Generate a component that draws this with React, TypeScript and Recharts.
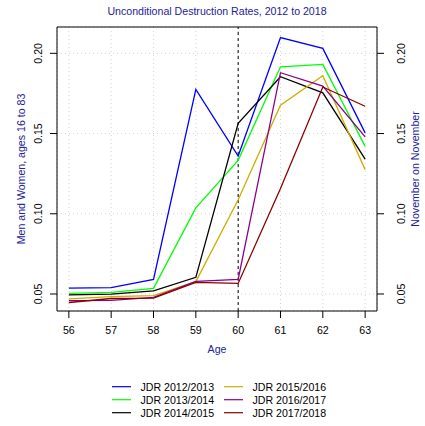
import { LineChart, Line, XAxis, YAxis, CartesianGrid, ReferenceLine, ReferenceArea } from 'recharts';

// ages on the x axis
const ages = [56, 57, 58, 59, 60, 61, 62, 63];

// destruction rates per JDR year
const jdr1213 = [0.0537, 0.054, 0.0591, 0.1775, 0.136, 0.2098, 0.2031, 0.1504];
const jdr1314 = [0.0504, 0.051, 0.0535, 0.1037, 0.1333, 0.1916, 0.1931, 0.142];
const jdr1415 = [0.0494, 0.0499, 0.052, 0.0604, 0.1563, 0.1854, 0.1754, 0.1341];
const jdr1516 = [0.0469, 0.0483, 0.049, 0.0577, 0.1087, 0.1677, 0.186, 0.1275];
const jdr1617 = [0.0459, 0.046, 0.0479, 0.0579, 0.0591, 0.1879, 0.1796, 0.1479];
const jdr1718 = [0.0447, 0.0472, 0.0474, 0.0573, 0.0566, 0.1158, 0.179, 0.167];

const xTicks = [56, 57, 58, 59, 60, 61, 62, 63];
const yTicks = [0.05, 0.1, 0.15, 0.2];

const series = [
  { key: 'jdr1213', name: 'JDR 2012/2013', color: '#0000FF', values: jdr1213 },
  { key: 'jdr1314', name: 'JDR 2013/2014', color: '#00FF00', values: jdr1314 },
  { key: 'jdr1415', name: 'JDR 2014/2015', color: '#000000', values: jdr1415 },
  { key: 'jdr1516', name: 'JDR 2015/2016', color: '#CDAD00', values: jdr1516 },
  { key: 'jdr1617', name: 'JDR 2016/2017', color: '#8B008B', values: jdr1617 },
  { key: 'jdr1718', name: 'JDR 2017/2018', color: '#8B0000', values: jdr1718 },
];

const data = ages.map((age, i) => {
  const row: any = { age };
  series.forEach(s => { row[s.key] = s.values[i]; });
  return row;
});

const font = '"Liberation Sans", Arial, sans-serif';
const fs = 10.6;
const labelColor = '#222299';
const xDomain = [55.72, 63.28];
const yDomain = [0.0394, 0.2164];

const LeftTick = (props: any) => {
  const { y, payload } = props;
  const x = 41.8;
  return (
    <text x={x} y={y} transform={`rotate(-90 ${x} ${y})`} textAnchor="middle" fontSize={fs} fontFamily={font} fill="#000">
      {Number(payload.value).toFixed(2)}
    </text>
  );
};

const RightTick = (props: any) => {
  const { y, payload } = props;
  const x = 405.5;
  return (
    <text x={x} y={y} transform={`rotate(-90 ${x} ${y})`} textAnchor="middle" fontSize={fs} fontFamily={font} fill="#000">
      {Number(payload.value).toFixed(2)}
    </text>
  );
};

export default function App() {
  const col1 = series.slice(0, 3);
  const col2 = series.slice(3);
  return (
    <div style={{ position: 'absolute', left: 0, top: 0, width: 425, height: 426, background: '#fff', fontFamily: font }}>
      <LineChart width={425} height={426} data={data} margin={{ top: 27, right: 0, bottom: 0, left: 0 }}>
        <CartesianGrid yAxisId="left" stroke="#d3d3d3" strokeDasharray="1 3" />
        <XAxis dataKey="age" type="number" domain={xDomain} ticks={xTicks} allowDataOverflow height={115}
          axisLine={false} tickLine={{ stroke: '#000' }} tickSize={7} tickMargin={8}
          tick={{ fontSize: fs, fontFamily: font, fill: '#000' }} />
        <YAxis yAxisId="left" width={57} domain={yDomain} ticks={yTicks} allowDataOverflow
          axisLine={false} tickLine={{ stroke: '#000' }} tickSize={7} tick={<LeftTick />} />
        <YAxis yAxisId="right" orientation="right" width={48} domain={yDomain} ticks={yTicks} allowDataOverflow
          axisLine={false} tickLine={{ stroke: '#000' }} tickSize={7} tick={<RightTick />} />
        <ReferenceArea yAxisId="left" x1={xDomain[0]} x2={xDomain[1]} y1={yDomain[0]} y2={yDomain[1]}
          fill="none" stroke="#000" strokeWidth={1} ifOverflow="visible" />
        <ReferenceLine yAxisId="left" x={60} stroke="#000" strokeDasharray="3 3" />
        {series.map(s => (
          <Line key={s.key} yAxisId="left" type="linear" dataKey={s.key} stroke={s.color} strokeWidth={1.3}
            dot={false} isAnimationActive={false} />
        ))}
      </LineChart>
      <svg width={425} height={426} style={{ position: 'absolute', left: 0, top: 0, pointerEvents: 'none' }}>
        <text x={217} y={14.5} textAnchor="middle" fontSize={fs} fontFamily={font} fill={labelColor}>
          Unconditional Destruction Rates, 2012 to 2018
        </text>
        <text x={217} y={353} textAnchor="middle" fontSize={fs} fontFamily={font} fill={labelColor}>Age</text>
        <text x={24.5} y={169} transform="rotate(-90 24.5 169)" textAnchor="middle" fontSize={fs} fontFamily={font} fill={labelColor}>
          Men and Women, ages 16 to 83
        </text>
        <text x={419} y={169} transform="rotate(-90 419 169)" textAnchor="middle" fontSize={fs} fontFamily={font} fill={labelColor}>
          November on November
        </text>
        {col1.map((s, i) => (
          <g key={s.key}>
            <line x1={112} x2={131} y1={386.7 + i * 13} y2={386.7 + i * 13} stroke={s.color} strokeWidth={1.2} />
            <text x={140.5} y={390.5 + i * 13} fontSize={fs} fontFamily={font} fill="#000">{s.name}</text>
          </g>
        ))}
        {col2.map((s, i) => (
          <g key={s.key}>
            <line x1={224} x2={243} y1={386.7 + i * 13} y2={386.7 + i * 13} stroke={s.color} strokeWidth={1.2} />
            <text x={252.5} y={390.5 + i * 13} fontSize={fs} fontFamily={font} fill="#000">{s.name}</text>
          </g>
        ))}
      </svg>
    </div>
  );
}
